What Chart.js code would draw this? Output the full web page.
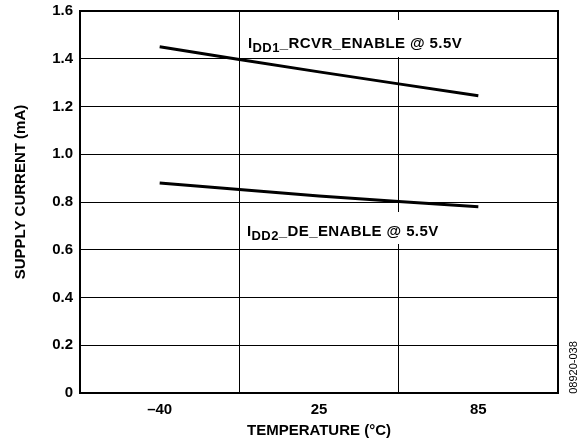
<!DOCTYPE html>
<html>
<head>
<meta charset="utf-8">
<script src="https://cdn.jsdelivr.net/npm/chart.js@4"></script>
<style>
  body { margin: 0; background: #fff; }
  canvas { display: block; }
</style>
</head>
<body>
<canvas id="myChart" width="579" height="447"></canvas>
<script>
// temperatures (°C) shown as categories
var temps = ["\u201340", "25", "85"];
// supply current (mA)
var rcvrEnable = [1.45, 1.345, 1.245];
var deEnable = [0.88, 0.825, 0.78];
var yTicks = [0, 0.2, 0.4, 0.6, 0.8, 1.0, 1.2, 1.4, 1.6];

var FONT = "'Liberation Sans', Arial, Helvetica, sans-serif";

// draws "I" + subscript + rest, returns width
function drawSubLabel(ctx, x, y, main, sub, rest, draw) {
  ctx.fillStyle = "#000";
  ctx.textBaseline = "alphabetic";
  ctx.textAlign = "left";
  ctx.letterSpacing = "0.4px";
  ctx.font = "bold 15px " + FONT;
  if (draw) ctx.fillText(main, x, y);
  var w = ctx.measureText(main).width;
  ctx.font = "bold 13px " + FONT;
  if (draw) ctx.fillText(sub, x + w, y + 4);
  w += ctx.measureText(sub).width;
  ctx.font = "bold 15px " + FONT;
  if (draw) ctx.fillText(rest, x + w, y);
  w += ctx.measureText(rest).width;
  return w;
}

var labelsPlugin = {
  id: "labels",
  beforeDatasetsDraw(chart) {
    var ctx = chart.ctx;
    var a = chart.chartArea;
    ctx.save();
    var items = [
      { x: a.left + 168, y: 47.5, top: 20, bottom: 57, sub: "DD1", rest: "_RCVR_ENABLE @ 5.5V" },
      { x: a.left + 167, y: 235.5, top: 212, bottom: 244, sub: "DD2", rest: "_DE_ENABLE @ 5.5V" }
    ];
    items.forEach(function (it) {
      var w = drawSubLabel(ctx, it.x, it.y, "I", it.sub, it.rest, false);
      ctx.fillStyle = "#fff";
      ctx.fillRect(it.x - 2, it.top, w + 4, it.bottom - it.top);
      drawSubLabel(ctx, it.x, it.y, "I", it.sub, it.rest, true);
    });
    ctx.restore();
  },
  afterDraw(chart) {
    var ctx = chart.ctx;
    var a = chart.chartArea;
    ctx.save();
    ctx.strokeStyle = "#000";
    ctx.lineWidth = 2;
    ctx.strokeRect(a.left, a.top, a.right - a.left, a.bottom - a.top);
    ctx.restore();

    // y axis title
    ctx.save();
    ctx.translate(24.5, 192);
    ctx.rotate(-Math.PI / 2);
    ctx.font = "bold 15px " + FONT;
    ctx.fillStyle = "#000";
    ctx.textAlign = "center";
    ctx.textBaseline = "alphabetic";
    ctx.fillText("SUPPLY CURRENT (mA)", 0, 0);
    ctx.restore();

    // figure id
    ctx.save();
    ctx.translate(574, 367.5);
    ctx.rotate(-Math.PI / 2);
    ctx.font = "11px " + FONT;
    ctx.fillStyle = "#000";
    ctx.textAlign = "center";
    ctx.textBaseline = "middle";
    ctx.fillText("08920-038", 0, 0);
    ctx.restore();
  }
};

new Chart(document.getElementById("myChart"), {
  type: "line",
  data: {
    labels: temps,
    datasets: [
      {
        label: "IDD1_RCVR_ENABLE @ 5.5V",
        data: rcvrEnable,
        borderColor: "#000",
        borderWidth: 3,
        pointRadius: 0,
        tension: 0.25,
        fill: false
      },
      {
        label: "IDD2_DE_ENABLE @ 5.5V",
        data: deEnable,
        borderColor: "#000",
        borderWidth: 3,
        pointRadius: 0,
        tension: 0.25,
        fill: false
      }
    ]
  },
  options: {
    responsive: false,
    animation: false,
    devicePixelRatio: 1,
    layout: { padding: { top: 11, right: 21, left: 0, bottom: 0 } },
    plugins: {
      legend: { display: false },
      tooltip: { enabled: false }
    },
    scales: {
      x: {
        type: "category",
        offset: true,
        grid: { offset: true, color: "#000", lineWidth: 1, drawTicks: false },
        border: { display: false },
        ticks: {
          color: "#000",
          padding: 8,
          font: { family: FONT, size: 15, weight: "bold" }
        },
        title: {
          display: true,
          text: "TEMPERATURE (\u00B0C)",
          color: "#000",
          padding: { top: 0, bottom: 7 },
          font: { family: FONT, size: 15, weight: "bold" }
        },
        afterFit: function (scale) { scale.height = 54; }
      },
      y: {
        min: 0,
        max: 1.6,
        grid: { color: "#000", lineWidth: 1, drawTicks: true, tickLength: 7, tickColor: "rgba(0,0,0,0)" },
        border: { display: false },
        afterBuildTicks: function (scale) {
          scale.ticks = yTicks.map(function (v) { return { value: v }; });
        },
        ticks: {
          color: "#000",
          padding: 0,
          font: { family: FONT, size: 15, weight: "bold" },
          callback: function (v) { return v === 0 ? "0" : Number(v).toFixed(1); }
        },
        afterFit: function (scale) { scale.width = 80; }
      }
    }
  },
  plugins: [labelsPlugin]
});
</script>
</body>
</html>
